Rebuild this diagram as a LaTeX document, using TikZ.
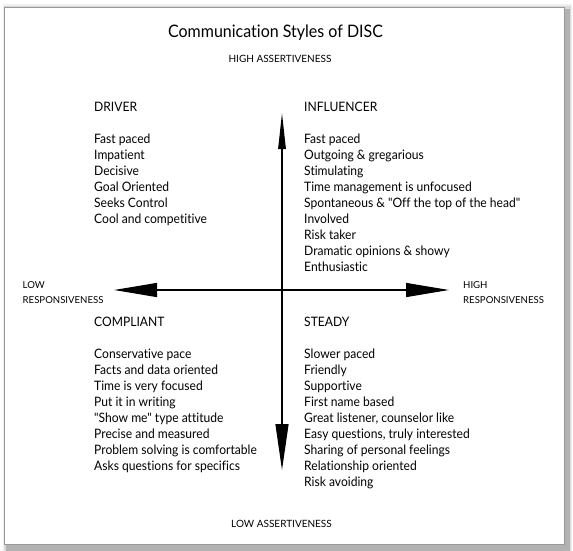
\documentclass[tikz,border=0pt]{standalone}
\usepackage{fontspec}
\setmainfont{Lato}[Ligatures={TeXOff,CommonOff}, FakeStretch=0.93]
\newfontfamily\lblfont{Lato}[Ligatures={TeXOff,CommonOff}]
\usetikzlibrary{arrows.meta}
\begin{document}
\begin{tikzpicture}[x=1pt,y=-1pt,
  item/.style={anchor=base west, inner sep=0pt, font=\fontsize{13}{16}\selectfont},
  head/.style={item},
  axislbl/.style={anchor=base, inner sep=0pt, font=\lblfont\fontsize{10}{12}\selectfont},
  sidelbl/.style={anchor=base west, inner sep=0pt, font=\lblfont\fontsize{9.6}{12}\selectfont},
  axis/.style={line width=1.2pt, black}]
\useasboundingbox (0,0) rectangle (573,551);
% shadow and frame
\fill[black!6] (2.5,4.5) rectangle (572,551);
\fill[black!15] (4,6.5) rectangle (571,551);
\fill[black!30] (6,9) rectangle (570,550.5);
\filldraw[fill=white, draw=black!40, line width=0.8pt] (4.5,7.5) rectangle (564.5,544.5);
% title and axis labels
\node[anchor=base, inner sep=0pt, font=\fontsize{17.2}{20}\selectfont] (title) at (275.5,38) {Communication Styles of DISC};
\node[axislbl] (hiA) at (280,63) {HIGH ASSERTIVENESS};
\node[axislbl] (loA) at (281.5,527) {LOW ASSERTIVENESS};
\node[sidelbl] (loR1) at (22.5,288.5) {LOW};
\node[sidelbl] (loR2) at (22.5,303) {RESPONSIVENESS};
\node[sidelbl] (hiR1) at (463,288.5) {HIGH};
\node[sidelbl] (hiR2) at (463,303) {RESPONSIVENESS};
% axes
\coordinate (vt) at (282,113);
\coordinate (vb) at (282,470);
\coordinate (hl) at (114,290);
\coordinate (hr) at (449,290);
\draw[axis, {Triangle[length=36pt,width=7.5pt]}-{Triangle[length=46pt,width=13pt]}] (vt) -- (vb);
\draw[axis, {Triangle[length=43pt,width=14pt]}-{Triangle[length=43pt,width=14pt]}] (hl) -- (hr);
% quadrant headers
\node[head] (driver) at (94,111) {DRIVER};
\node[head] (influencer) at (304,111) {INFLUENCER};
\node[head] (compliant) at (94,326) {COMPLIANT};
\node[head] (steady) at (304,326) {STEADY};
% lists
\foreach \t [count=\i] in {Fast paced, Impatient, Decisive, Goal Oriented, Seeks Control, Cool and competitive}
  \node[item] (d\i) at (94,143+16*\i-16) {\t};
\foreach \t [count=\i] in {Fast paced, Outgoing \& gregarious, Stimulating, Time management is unfocused, Spontaneous \& "Off the top of the head", Involved, Risk taker, Dramatic opinions \& showy, Enthusiastic}
  \node[item] (i\i) at (304,143+16*\i-16) {\t};
\foreach \t [count=\i] in {Conservative pace, Facts and data oriented, Time is very focused, Put it in writing, "Show me" type attitude, Precise and measured, Problem solving is comfortable, Asks questions for specifics}
  \node[item] (c\i) at (94,358+16*\i-16) {\t};
\foreach \t [count=\i] in {Slower paced, Friendly, Supportive, First name based, {Great listener, counselor like}, {Easy questions, truly interested}, Sharing of personal feelings, Relationship oriented, Risk avoiding}
  \node[item] (s\i) at (304,358+16*\i-16) {\t};
\end{tikzpicture}
\end{document}
